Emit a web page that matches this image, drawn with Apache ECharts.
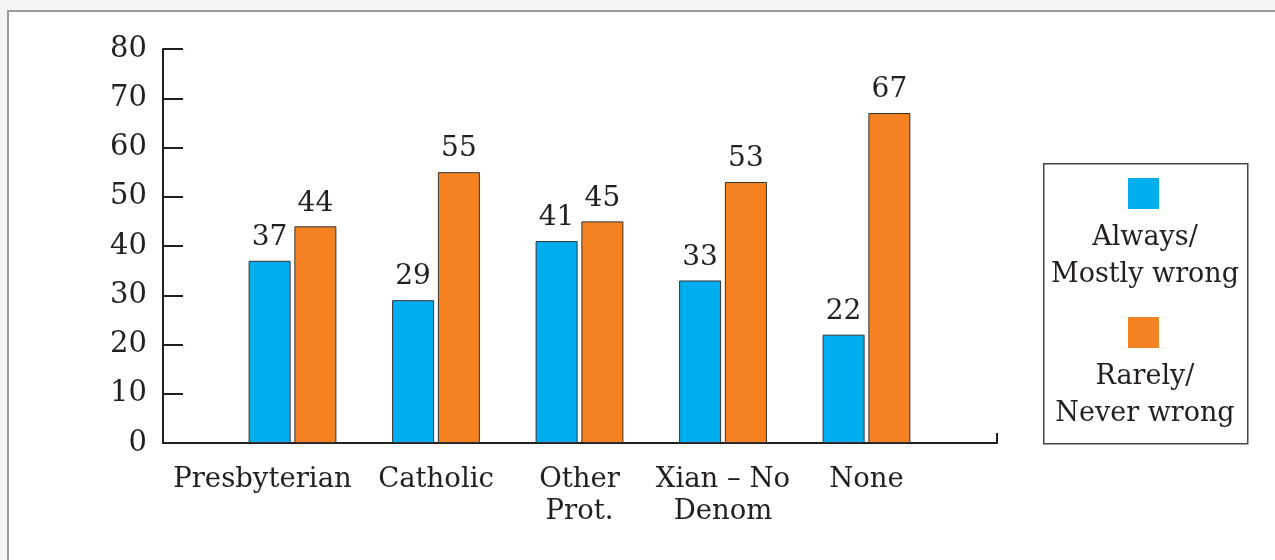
<!DOCTYPE html>
<html>
<head>
<meta charset="utf-8">
<script src="https://cdn.jsdelivr.net/npm/echarts@6/dist/echarts.min.js"></script>
<style>
  html, body { margin: 0; padding: 0; background: #f4f4f4; }
  #frame { position: absolute; left: 7px; top: 10px; right: 0; bottom: 0; background: #fff;
           border-top: 2px solid #9a9a9a; border-left: 2px solid #9a9a9a; }
  #chart { position: absolute; left: 0; top: 0; width: 1275px; height: 560px; }
</style>
</head>
<body>
<div id="frame"></div>
<div id="chart"></div>
<script>
const categories = ['Presbyterian', 'Catholic', 'Other\nProt.', 'Xian \u2013 No\nDenom', 'None'];
const alwaysMostlyWrong = [37, 29, 41, 33, 22];
const rarelyNeverWrong = [44, 55, 45, 53, 67];
const seriesNames = ['Always/\nMostly wrong', 'Rarely/\nNever wrong'];
const yTicks = { min: 0, max: 80, interval: 10 };

const FONT = 'DejaVu Serif';
const INK = '#231f20';
const BLUE = '#00aeef';
const ORANGE = '#f58220';

const chart = echarts.init(document.getElementById('chart'), null, { renderer: 'canvas' });

const labelStyle = { show: true, position: 'top', distance: 9, color: INK, fontFamily: FONT, fontSize: 28 };

chart.setOption({
  backgroundColor: 'transparent',
  animation: false,
  textStyle: { fontFamily: FONT },
  grid: [
    { left: 163, right: 278, top: 49, bottom: 117 },
    { left: 220.75, width: 717.5, top: 49, bottom: 117 }
  ],
  xAxis: [
    {
      gridIndex: 0, type: 'value', min: 0, max: 1, interval: 1,
      axisLine: { show: true, lineStyle: { color: INK, width: 2 } },
      axisTick: { show: true, inside: true, length: 10, lineStyle: { color: INK, width: 2 } },
      axisLabel: { show: false }, splitLine: { show: false }
    },
    {
      gridIndex: 1, type: 'category', data: categories,
      axisLine: { show: false }, axisTick: { show: false }, splitLine: { show: false },
      axisLabel: {
        show: true, interval: 0, margin: 21, color: INK, fontFamily: FONT, fontSize: 27.5, lineHeight: 32,
        formatter: function (v) { return v === 'Presbyterian' ? '{p|' + v + '}' : v; },
        rich: { p: { fontFamily: FONT, fontSize: 27.5, color: INK, lineHeight: 32, padding: [0, 60, 0, 0] } }
      }
    }
  ],
  yAxis: [
    {
      gridIndex: 0, type: 'value', min: yTicks.min, max: yTicks.max, interval: yTicks.interval,
      axisLine: { show: true, lineStyle: { color: INK, width: 2 } },
      axisTick: { show: true, inside: true, length: 20, lineStyle: { color: INK, width: 2 } },
      axisLabel: { show: true, margin: 16, color: INK, fontFamily: FONT, fontSize: 29 },
      splitLine: { show: false }
    },
    {
      gridIndex: 1, type: 'value', min: yTicks.min, max: yTicks.max, interval: yTicks.interval, show: false
    }
  ],
  legend: {
    orient: 'vertical', left: 1128, top: 178, padding: 0,
    itemWidth: 31, itemHeight: 31, itemGap: 108, icon: 'rect',
    itemStyle: { borderWidth: 0 },
    selectedMode: false,
    formatter: function () { return ''; },
    data: seriesNames
  },
  series: [
    {
      name: seriesNames[0], type: 'bar', xAxisIndex: 1, yAxisIndex: 1,
      data: alwaysMostlyWrong, barWidth: 42, barGap: '9%',
      itemStyle: { color: BLUE, borderColor: '#333', borderWidth: 1 },
      label: labelStyle
    },
    {
      name: seriesNames[1], type: 'bar', xAxisIndex: 1, yAxisIndex: 1,
      data: rarelyNeverWrong, barWidth: 42, barGap: '9%',
      itemStyle: { color: ORANGE, borderColor: '#333', borderWidth: 1 },
      label: labelStyle
    }
  ],
  graphic: [
    {
      type: 'rect', left: 1043, top: 163, z: -1,
      shape: { width: 204, height: 280 },
      style: { fill: '#fff', stroke: '#444', lineWidth: 1.5 }
    },
    {
      type: 'text', x: 1145, y: 256.5,
      style: { text: seriesNames[0], fill: INK, font: '27px "DejaVu Serif"', align: 'center', verticalAlign: 'middle', lineHeight: 37 }
    },
    {
      type: 'text', x: 1145, y: 395,
      style: { text: seriesNames[1], fill: INK, font: '27px "DejaVu Serif"', align: 'center', verticalAlign: 'middle', lineHeight: 37 }
    }
  ]
});
</script>
</body>
</html>
